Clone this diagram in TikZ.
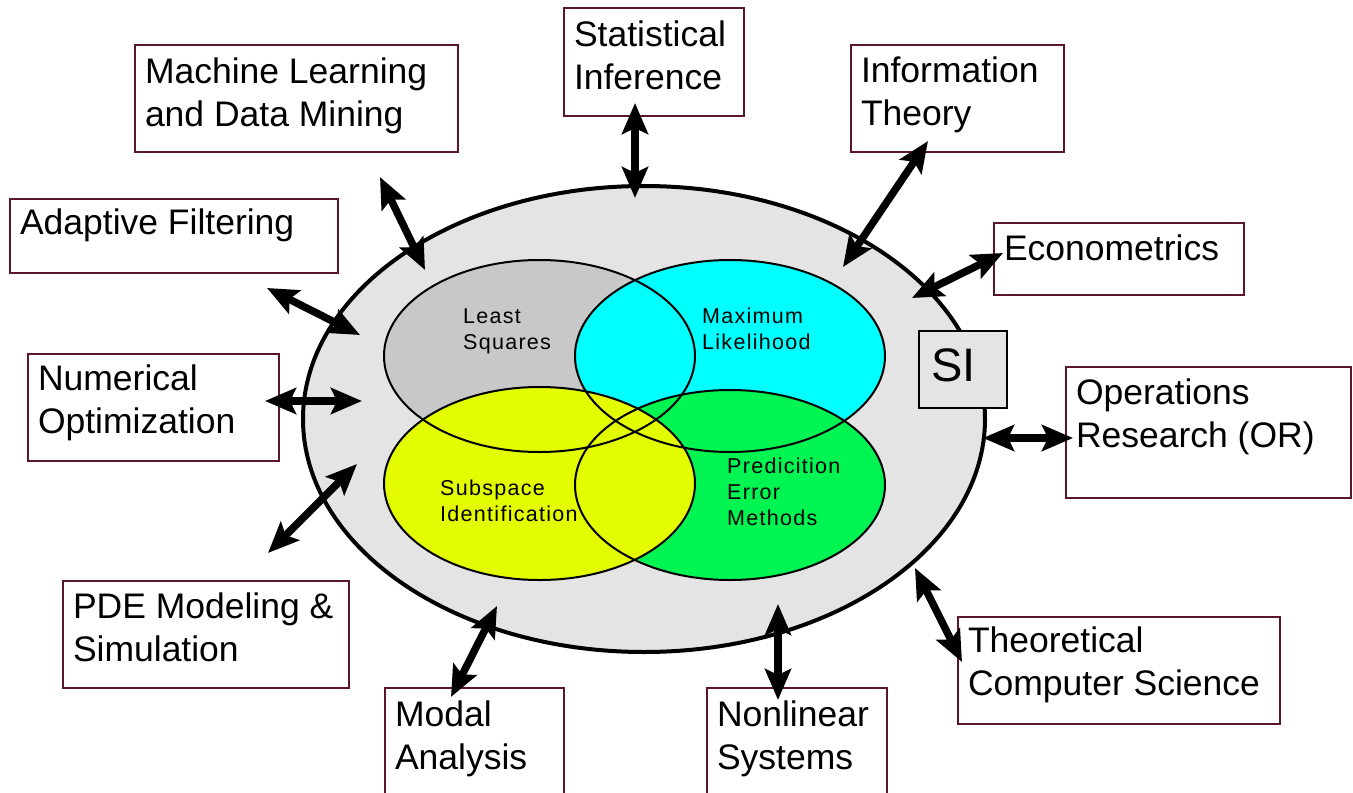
\documentclass[tikz,border=0pt]{standalone}
\usepackage{fontspec}
\setmainfont{Liberation Sans}
\newfontfamily\vennfont[LetterSpace=6]{Liberation Sans}
\usetikzlibrary{arrows.meta}

\definecolor{frame}{RGB}{92,22,42}
\definecolor{fieldgray}{RGB}{228,228,228}
\definecolor{lsgray}{RGB}{200,200,200}
\definecolor{mlcyan}{RGB}{0,255,255}
\definecolor{pemgreen}{RGB}{0,245,82}
\definecolor{subyellow}{RGB}{228,252,0}

% #1 width, #2 height, #3 offset of the first baseline, #4 lines
\newcommand{\fieldtext}[4]{%
  \parbox[t][#2pt][t]{#1pt}{\leftskip=10pt\rightskip=0pt plus 1fil
    \rule{0pt}{#3pt}#4}}
\newcommand{\venntext}[2]{\parbox[t]{#1pt}{\rule{0pt}{20pt}#2}}

\tikzset{
  fieldbox/.style={draw=frame, line width=2pt, fill=white, inner sep=0pt,
    anchor=north west, font=\fontsize{35.5pt}{43pt}\selectfont},
  sibox/.style={draw=black, line width=2pt, fill=fieldgray, inner sep=0pt,
    anchor=north west, font=\fontsize{47pt}{50pt}\selectfont},
  vennlabel/.style={inner sep=0pt, anchor=north west,
    font=\vennfont\fontsize{21.5pt}{26pt}\selectfont},
  vennedge/.style={draw=black, line width=2pt},
  biarrow/.style={line width=7.5pt,
    {Stealth[length=31pt,width=26pt,inset=6pt]}-{Stealth[length=31pt,width=26pt,inset=6pt]}}
}

\begin{document}
\begin{tikzpicture}[x=1pt, y=-1pt]
  \useasboundingbox (0,0) rectangle (1353,793);
  \clip (0,0) rectangle (1353,793);

  % the field of system identification
  \filldraw[fill=fieldgray, draw=black, line width=4pt]
    (644,419) ellipse [x radius=341, y radius=233];

  % the four overlapping families of methods
  \fill[lsgray]    (539.5,356) ellipse [x radius=155.5, y radius=96];
  \fill[mlcyan]    (730,356)   ellipse [x radius=155, y radius=96];
  \fill[pemgreen]  (730,485)   ellipse [x radius=155, y radius=95];
  \fill[subyellow] (539.5,483.5) ellipse [x radius=155.5, y radius=96.5];
  \draw[vennedge] (539.5,356) ellipse [x radius=155.5, y radius=96];
  \draw[vennedge] (730,356)   ellipse [x radius=155, y radius=96];
  \draw[vennedge] (730,485)   ellipse [x radius=155, y radius=95];
  \draw[vennedge] (539.5,483.5) ellipse [x radius=155.5, y radius=96.5];

  \node[vennlabel] (ls)  at (463,303) {\venntext{150}{Least\\Squares}};
  \node[vennlabel] (ml)  at (702,303) {\venntext{150}{Maximum\\Likelihood}};
  \node[vennlabel] (sub) at (440,475) {\venntext{160}{Subspace\\Identification}};
  \node[vennlabel] (pem) at (727,453) {\venntext{150}{Predicition\\Error\\Methods}};

  \node[sibox] (si) at (918,330) {\fieldtext{88}{77}{50}{\hspace*{2pt}SI}};

  % neighbouring fields
  \node[fieldbox] (stat)   at (563,7)   {\fieldtext{180}{108}{38}{Statistical\\Inference}};
  \node[fieldbox] (mldm)   at (134,44)  {\fieldtext{323}{107}{38}{Machine Learning\\and Data Mining}};
  \node[fieldbox] (info)   at (850,44)  {\fieldtext{213}{107}{37}{Information\\Theory}};
  \node[fieldbox] (adapt)  at (9,198)   {\fieldtext{328}{74}{35}{Adaptive Filtering}};
  \node[fieldbox] (econ)   at (993,222) {\fieldtext{250}{72}{37}{Econometrics}};
  \node[fieldbox] (numopt) at (27,353)  {\fieldtext{251}{107}{36}{Numerical\\Optimization}};
  \node[fieldbox] (opres)  at (1065,366){\fieldtext{285}{131}{37}{Operations\\Research (OR)}};
  \node[fieldbox] (pde)    at (62,580)  {\fieldtext{286}{107}{37}{PDE Modeling \&\\Simulation}};
  \node[fieldbox] (modal)  at (384,687) {\fieldtext{179}{130}{38}{Modal\\Analysis}};
  \node[fieldbox] (nonlin) at (706,687) {\fieldtext{180}{130}{38}{Nonlinear\\Systems}};
  \node[fieldbox] (tcs)    at (957,616) {\fieldtext{322}{107}{35}{Theoretical\\Computer Science}};

  % arrow ends: outer end at each field, inner end in the ellipse
  \coordinate (stat-o)   at (635,103);  \coordinate (stat-i)   at (635,198);
  \coordinate (mldm-o)   at (380,177);  \coordinate (mldm-i)   at (425,270);
  \coordinate (info-o)   at (928,141);  \coordinate (info-i)   at (843,267);
  \coordinate (econ-o)   at (1003,253); \coordinate (econ-i)   at (912,298);
  \coordinate (adapt-o)  at (267,288);  \coordinate (adapt-i)  at (360,335);
  \coordinate (numopt-o) at (265,401);  \coordinate (numopt-i) at (362,401);
  \coordinate (opres-o)  at (1073,438); \coordinate (opres-i)  at (983,438);
  \coordinate (pde-o)    at (268,553);  \coordinate (pde-i)    at (357,464);
  \coordinate (modal-o)  at (451,697);  \coordinate (modal-i)  at (497,606);
  \coordinate (nonlin-o) at (778,700);  \coordinate (nonlin-i) at (778,604);
  \coordinate (tcs-o)    at (962,662);  \coordinate (tcs-i)    at (915,568);

  \foreach \f in {stat,mldm,info,econ,adapt,numopt,opres,pde,modal,nonlin,tcs}
    \draw[biarrow] (\f-o) -- (\f-i);
\end{tikzpicture}
\end{document}
